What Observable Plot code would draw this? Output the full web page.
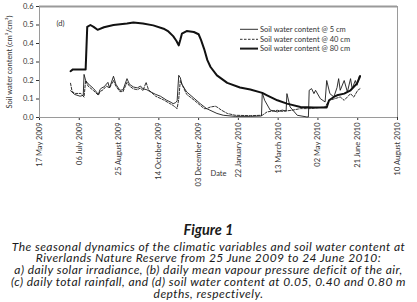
<!DOCTYPE html>
<html><head><meta charset="utf-8">
<script src="https://cdn.jsdelivr.net/npm/d3@7"></script>
<script src="https://cdn.jsdelivr.net/npm/@observablehq/plot@0.6"></script>
<style>
html,body{margin:0;padding:0;background:#fff;}
body{width:417px;height:302px;overflow:hidden;font-family:Lato,sans-serif;}
#chart{position:relative;width:417px;height:188px;}
#chart svg{display:block;}
#legend{position:absolute;left:0;top:0;pointer-events:none;}
#cap{text-align:center;color:#1a1a1a;font-family:Lato,"Open Sans",sans-serif;font-style:italic;margin-top:34px;}
#cap .t{font-weight:bold;font-size:14.5px;line-height:15px;margin-bottom:3.5px;}
#cap .l{font-size:12px;letter-spacing:0.45px;line-height:11.8px;white-space:pre;}
</style>
</head><body>
<div id="chart"></div>
<div id="cap">
<div class="t">Figure 1</div>
<div class="l" id="body"></div>
</div>
<script>
const captionLines = [
  "The seasonal dynamics of the climatic variables and soil water content at",
  "Riverlands Nature Reserve from 25 June 2009 to 24 June 2010:",
  "a) daily solar irradiance, (b) daily mean vapour pressure deficit of the air,",
  "(c) daily total rainfall, and (d) soil water content at 0.05, 0.40 and 0.80 m",
  "depths, respectively."
];
const xTickDates = ["2009-05-17","2009-07-06","2009-08-25","2009-10-14","2009-12-03","2010-01-22","2010-03-13","2010-05-02","2010-06-21","2010-08-10"];
const yTicks = [0, 0.1, 0.2, 0.3, 0.4, 0.5, 0.6];

const dates5 = ["2009-06-25","2009-06-30","2009-07-07","2009-07-11","2009-07-12","2009-07-14","2009-07-17","2009-07-24","2009-07-30","2009-08-01","2009-08-03","2009-08-06","2009-08-08","2009-08-11","2009-08-13","2009-08-18","2009-08-21","2009-08-26","2009-08-30","2009-09-04","2009-09-07","2009-09-12","2009-09-17","2009-09-21","2009-09-24","2009-09-29","2009-10-03","2009-10-10","2009-10-16","2009-10-24","2009-10-28","2009-11-01","2009-11-04","2009-11-06","2009-11-08","2009-11-10","2009-11-12","2009-11-18","2009-11-27","2009-12-05","2009-12-13","2009-12-26","2010-01-03","2010-01-18","2010-02-06","2010-02-20","2010-02-21","2010-02-24","2010-03-03","2010-03-12","2010-03-18","2010-03-23","2010-03-24","2010-03-28","2010-04-06","2010-04-18","2010-04-20","2010-04-21","2010-04-24","2010-04-27","2010-04-29","2010-05-05","2010-05-11","2010-05-13","2010-05-17","2010-05-22","2010-05-26","2010-05-28","2010-05-30","2010-06-04","2010-06-08","2010-06-12","2010-06-14","2010-06-18","2010-06-20","2010-06-23","2010-06-24"];
const swc5 = [0.145,0.125,0.115,0.12,0.233,0.2,0.183,0.156,0.125,0.15,0.16,0.165,0.175,0.19,0.16,0.223,0.18,0.147,0.15,0.21,0.18,0.165,0.16,0.17,0.155,0.15,0.14,0.125,0.115,0.093,0.085,0.075,0.08,0.09,0.228,0.215,0.18,0.138,0.105,0.075,0.048,0.022,0.012,0.006,0.006,0.008,0.133,0.093,0.04,0.03,0.04,0.035,0.129,0.057,0.012,0.003,0.003,0.147,0.156,0.129,0.147,0.102,0.084,0.2,0.129,0.111,0.162,0.21,0.147,0.2,0.138,0.21,0.156,0.2,0.174,0.223,0.228];

const dates40 = ["2009-06-25","2009-06-27","2009-07-01","2009-07-08","2009-07-12","2009-07-14","2009-07-17","2009-07-24","2009-07-30","2009-08-01","2009-08-05","2009-08-09","2009-08-13","2009-08-18","2009-08-21","2009-08-26","2009-08-30","2009-09-04","2009-09-07","2009-09-12","2009-09-17","2009-09-21","2009-09-24","2009-09-28","2009-10-01","2009-10-10","2009-10-20","2009-10-28","2009-11-01","2009-11-06","2009-11-08","2009-11-10","2009-11-13","2009-11-18","2009-11-27","2009-12-05","2009-12-10","2009-12-13","2009-12-18","2009-12-24","2009-12-26","2010-01-01","2010-01-08","2010-01-18","2010-02-06","2010-02-21","2010-02-27","2010-03-12","2010-03-18","2010-03-30","2010-04-10","2010-04-22","2010-05-05","2010-05-11","2010-05-16","2010-05-22","2010-05-30","2010-06-04","2010-06-12","2010-06-16","2010-06-21","2010-06-24"];
const swc40 = [0.185,0.14,0.13,0.13,0.11,0.2,0.17,0.145,0.12,0.14,0.15,0.17,0.16,0.2,0.17,0.14,0.14,0.19,0.17,0.155,0.15,0.16,0.145,0.19,0.15,0.115,0.095,0.075,0.065,0.048,0.1,0.2,0.17,0.125,0.095,0.066,0.048,0.048,0.057,0.061,0.057,0.039,0.022,0.012,0.01,0.012,0.03,0.039,0.033,0.039,0.048,0.048,0.054,0.057,0.093,0.1,0.111,0.093,0.129,0.11,0.147,0.156];

const dates80 = ["2009-06-25","2009-06-28","2009-07-14","2009-07-16","2009-07-20","2009-07-24","2009-07-29","2009-08-06","2009-08-18","2009-09-04","2009-09-12","2009-09-24","2009-10-07","2009-10-20","2009-10-26","2009-11-01","2009-11-05","2009-11-08","2009-11-10","2009-11-12","2009-11-18","2009-11-27","2009-12-03","2009-12-06","2009-12-10","2009-12-14","2009-12-18","2009-12-26","2010-01-08","2010-01-24","2010-02-06","2010-02-21","2010-02-27","2010-03-12","2010-03-24","2010-04-10","2010-04-27","2010-05-13","2010-05-16","2010-05-22","2010-05-26","2010-06-04","2010-06-12","2010-06-20","2010-06-24"];
const swc80 = [0.25,0.26,0.26,0.49,0.50,0.49,0.474,0.488,0.50,0.508,0.513,0.508,0.498,0.48,0.465,0.44,0.415,0.39,0.42,0.453,0.467,0.462,0.45,0.42,0.37,0.31,0.273,0.228,0.187,0.162,0.151,0.133,0.12,0.093,0.075,0.057,0.054,0.054,0.093,0.111,0.12,0.129,0.147,0.183,0.223];

const seriesNames = ["Soil water content @ 5 cm","Soil water content @ 40 cm","Soil water content @ 80 cm"];

document.getElementById("body").textContent = captionLines.join("\n");

const parse = d3.utcParse("%Y-%m-%d");
const rows = (ds, vs) => ds.map((d, i) => ({date: parse(d), v: vs[i]}));
const d5 = rows(dates5, swc5), d40 = rows(dates40, swc40), d80 = rows(dates80, swc80);
const xt = xTickDates.map(parse);
const xmin = xt[0], xmax = xt[xt.length - 1];
const grey = "#9a9a9a";

const plot = Plot.plot({
  width: 417, height: 188,
  marginLeft: 39, marginRight: 20, marginTop: 6, marginBottom: 71,
  style: {fontFamily: "Lato, sans-serif", fontSize: "7.5px", color: "#333", background: "#fff"},
  x: {type: "utc", domain: [xmin, xmax], ticks: xt, tickFormat: d3.utcFormat("%d %B %Y"),
      tickRotate: -90, tickSize: 3, tickPadding: 2, label: "Date", labelAnchor: "center", labelOffset: 58, labelArrow: "none"},
  y: {domain: [0, 0.6], ticks: yTicks, tickFormat: d3.format(".1f"), tickSize: 3, tickPadding: 3,
      label: "Soil water content (cm³/cm³)", labelAnchor: "center", labelArrow: "none", labelOffset: 33},
  marks: [
    Plot.ruleY([0], {stroke: grey}),
    Plot.ruleX([xmin], {stroke: grey}),
    Plot.ruleX([xmax], {stroke: grey}),
    Plot.ruleY([0.6], {stroke: grey, strokeWidth: 2}),
    Plot.line(d5, {x: "date", y: "v", stroke: "#1a1a1a", strokeWidth: 0.9}),
    Plot.line(d40, {x: "date", y: "v", stroke: "#1a1a1a", strokeWidth: 0.9, strokeDasharray: "2.5,1.5"}),
    Plot.line(d80, {x: "date", y: "v", stroke: "#111", strokeWidth: 2}),
    Plot.text(["(d)"], {frameAnchor: "top-left", dx: 17, dy: 14, fontSize: 7.5, fill: "#333"})
  ]
});
const chart = document.getElementById("chart");
chart.appendChild(plot);

// legend as an overlay svg in the same pixel space
const lsvg = d3.select(chart).append("svg").attr("id", "legend")
  .attr("width", 417).attr("height", 188)
  .attr("font-family", "Lato, sans-serif").attr("font-size", "7.5px").attr("fill", "#333");
const ly = [29.3, 39.3, 48.6];
const styles = [{w: 0.9, dash: null}, {w: 0.9, dash: "2.5,1.5"}, {w: 2, dash: null}];
seriesNames.forEach((name, i) => {
  lsvg.append("line").attr("x1", 240).attr("x2", 258).attr("y1", ly[i]).attr("y2", ly[i])
    .attr("stroke", "#1a1a1a").attr("stroke-width", styles[i].w).attr("stroke-dasharray", styles[i].dash);
  lsvg.append("text").attr("x", 260).attr("y", ly[i]).attr("dy", "0.32em").text(name);
});
</script>
</body></html>
